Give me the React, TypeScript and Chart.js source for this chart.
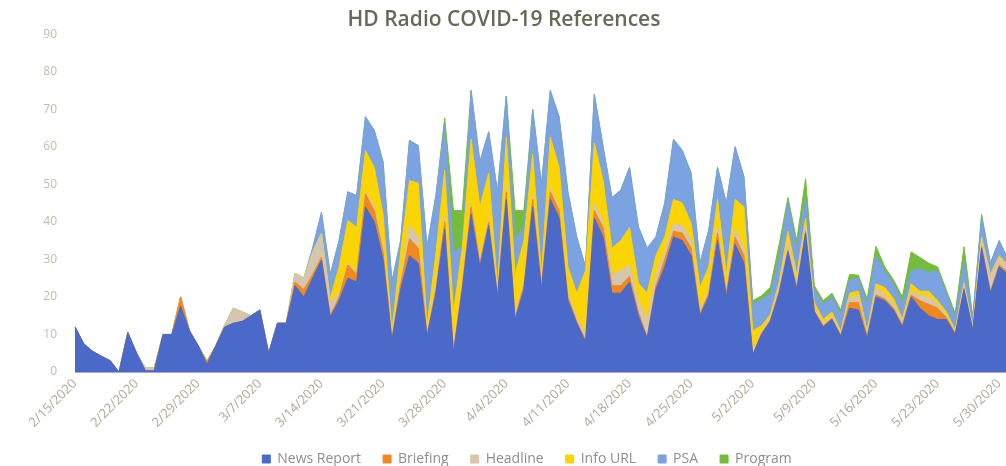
import React, { useEffect, useRef } from "react";
import { Chart, registerables } from "chart.js";

Chart.register(...registerables);

const dates: string[] = [
  "2/15/2020","2/16/2020","2/17/2020","2/18/2020","2/19/2020","2/20/2020","2/21/2020",
  "2/22/2020","2/23/2020","2/24/2020","2/25/2020","2/26/2020","2/27/2020","2/28/2020",
  "2/29/2020","3/1/2020","3/2/2020","3/3/2020","3/4/2020","3/5/2020","3/6/2020",
  "3/7/2020","3/8/2020","3/9/2020","3/10/2020","3/11/2020","3/12/2020","3/13/2020",
  "3/14/2020","3/15/2020","3/16/2020","3/17/2020","3/18/2020","3/19/2020","3/20/2020",
  "3/21/2020","3/22/2020","3/23/2020","3/24/2020","3/25/2020","3/26/2020","3/27/2020",
  "3/28/2020","3/29/2020","3/30/2020","3/31/2020","4/1/2020","4/2/2020","4/3/2020",
  "4/4/2020","4/5/2020","4/6/2020","4/7/2020","4/8/2020","4/9/2020","4/10/2020",
  "4/11/2020","4/12/2020","4/13/2020","4/14/2020","4/15/2020","4/16/2020","4/17/2020",
  "4/18/2020","4/19/2020","4/20/2020","4/21/2020","4/22/2020","4/23/2020","4/24/2020",
  "4/25/2020","4/26/2020","4/27/2020","4/28/2020","4/29/2020","4/30/2020","5/1/2020",
  "5/2/2020","5/3/2020","5/4/2020","5/5/2020","5/6/2020","5/7/2020","5/8/2020",
  "5/9/2020","5/10/2020","5/11/2020","5/12/2020","5/13/2020","5/14/2020","5/15/2020",
  "5/16/2020","5/17/2020","5/18/2020","5/19/2020","5/20/2020","5/21/2020","5/22/2020",
  "5/23/2020","5/24/2020","5/25/2020","5/26/2020","5/27/2020","5/28/2020","5/29/2020",
  "5/30/2020","5/31/2020",
];

const newsReport: number[] = [
  12, 7.5, 5.5, 4.2, 3, 0, 10.5, 5, 0.3, 0.3, 10, 10, 17.5, 11, 7, 2, 7, 12, 13, 13.5,
  15, 16.5, 5, 13, 13, 23, 20, 25, 29.8, 14.6, 19, 25, 24, 44, 40, 30, 8.5, 22, 31, 29,
  9.5, 21, 38, 5, 22, 42, 28, 39, 20, 46, 14, 22, 44, 22, 46, 41, 19, 13, 8, 41,
  36, 21, 21, 24, 15, 9, 22, 28, 36, 35, 31, 15, 20, 35, 20, 34, 29, 4.5, 10, 13.5,
  21, 32, 22, 37, 16, 12, 14, 9.5, 17, 16.5, 9, 20, 19, 16.5, 12, 20, 17, 15, 14, 14,
  10, 22, 11, 33, 21, 28, 26,
];
const briefing: number[] = [
  0, 0, 0, 0, 0, 0, 0, 0, 0, 0, 0, 0, 2.5, 0, 0, 0.8, 0, 0, 0, 0,
  0, 0, 0, 0, 0, 1, 2, 1, 0.8, 0.5, 1, 3.5, 2, 3.5, 3, 2, 0.3, 1.5, 4.5, 4,
  0.3, 1, 2, 0.5, 1, 2, 1, 1, 0.5, 2, 0.5, 1, 2, 1, 2, 2, 1, 0.5, 0.5, 2,
  2.5, 2, 2, 1.5, 1, 0.3, 1, 2, 1.5, 2, 2, 0.5, 1, 2, 1, 2, 2, 0.2, 0.3, 0.3,
  0.5, 0.5, 0.5, 0.5, 0.3, 0.3, 0.3, 0.3, 1.5, 2, 0.5, 0.5, 0.5, 0.5, 0.5, 0.5, 2, 3, 3, 0.5,
  0.3, 0.3, 0.2, 0.5, 0.5, 0.5, 0.5,
];
const headline: number[] = [
  0, 0, 0, 0, 0, 0, 0, 0, 0.8, 0.8, 0, 0, 0, 0, 0, 0, 0, 0.5, 4, 2.5,
  0, 0, 0, 0, 0, 2.3, 3, 6, 6.4, 3.5, 1, 0.5, 0.5, 0.5, 1, 1, 0.5, 1.5, 3.5, 3,
  0.5, 1.5, 1, 0.5, 1, 1, 1, 1, 1, 1, 0.5, 1, 1, 1, 1, 1, 1, 1, 1.5, 2,
  1.5, 3, 4, 3, 3, 4.7, 3, 2, 2, 2, 2, 1, 1, 2, 1, 2, 2, 0.3, 0.5, 0.5,
  1.5, 2, 2, 2, 0.7, 0.7, 0.7, 0.5, 1.5, 1.5, 1, 2, 1, 1, 1, 1, 1.5, 2, 1, 0.5,
  0.3, 1, 0.5, 2, 4, 2, 1.5,
];
const infoUrl: number[] = [
  0, 0, 0, 0, 0, 0, 0, 0, 0, 0, 0, 0, 0, 0, 0, 0, 0, 0, 0, 0,
  0, 0, 0, 0, 0, 0, 0, 0, 0, 1, 7, 11.4, 12, 11, 10.5, 9, 1.7, 7, 12, 14.3,
  2, 8, 12.7, 10, 9, 17, 14, 12, 1, 13.5, 11, 11, 11, 2, 13.6, 10.5, 7, 6.5, 17, 16,
  11, 7, 8, 10, 4.7, 7, 5, 4, 6.5, 6, 4.6, 6, 6, 7, 4, 8, 11, 6, 1.5, 1,
  1, 3, 1.5, 1.5, 1.5, 1, 1, 0.5, 1, 1.5, 0.5, 1, 2, 1.5, 0.5, 2, 1, 1.5, 1, 1,
  0.6, 0.5, 0.3, 0.5, 0.5, 0.5, 0.5,
];
const psa: number[] = [
  0, 0, 0, 0, 0, 0, 0, 0, 0, 0, 0, 0, 0, 0, 0, 0, 0, 0, 0, 0,
  0, 0, 0, 0, 0, 0, 0, 1, 5.5, 6.4, 7, 7.6, 8.5, 9, 9.9, 14, 13, 3, 10.7, 10,
  21, 15.5, 12, 16, 0.5, 13, 12, 11, 25.5, 11, 9, 4, 12, 24, 12.4, 13.5, 20, 15, 1, 13,
  9, 13.5, 13.4, 16, 15, 12, 5, 9, 16, 14, 13.4, 6.5, 9.8, 8.5, 19, 14, 8, 7, 7, 5.5,
  6.6, 8, 7, 5, 3.5, 4, 4, 4.5, 3.5, 3.5, 7, 7.5, 4.5, 4, 4.5, 3.5, 6, 5, 8, 4.8,
  3.4, 5.6, 2.4, 5.5, 3, 4, 1.5,
];
const program: number[] = [
  0, 0, 0, 0, 0, 0, 0, 0, 0, 0, 0, 0, 0, 0, 0, 0, 0, 0, 0, 0,
  0, 0, 0, 0, 0, 0, 0, 0, 0, 0, 0, 0, 0, 0, 0, 0, 0, 0, 0, 0,
  0, 0, 2, 11, 9.5, 0, 0, 0, 0, 0, 8, 4, 0, 0, 0, 0, 0, 0, 0, 0,
  0, 0, 0, 0, 0, 0, 0, 0, 0, 0, 0, 0, 0, 0, 0, 0, 0, 1, 1, 1.8,
  3.4, 1, 2, 5.5, 1, 1, 1, 1.2, 1.5, 0.8, 1.5, 2.5, 1, 1, 1.5, 5, 3, 2.5, 1, 1,
  1, 4, 0.2, 0.5, 0, 0, 0,
];

const seriesNames: string[] = ["News Report", "Briefing", "Headline", "Info URL", "PSA", "Program"];
const seriesColors: string[] = ["#4b69c9", "#f0891e", "#d5c6ad", "#fbd404", "#7ba2e1", "#74bc3c"];
const seriesValues: number[][] = [newsReport, briefing, headline, infoUrl, psa, program];

const titleText = "HD Radio COVID-19 References";
const font = "'Open Sans', 'Noto Sans', sans-serif";

export default function App() {
  const ref = useRef<HTMLCanvasElement | null>(null);

  useEffect(() => {
    if (!ref.current) return;
    const legendShift = {
      id: "legendShift",
      afterLayout(chart: any) {
        if (chart.legend) {
          chart.legend.left += 23;
          chart.legend.right += 23;
        }
      },
    };
    const chart = new Chart(ref.current, {
      type: "line",
      data: {
        labels: dates,
        datasets: seriesNames.map((name, i) => ({
          label: name,
          data: seriesValues[i],
          backgroundColor: seriesColors[i],
          borderColor: seriesColors[i],
          borderWidth: 1,
          fill: "origin",
          pointRadius: 0,
          pointHoverRadius: 0,
          tension: 0,
        })),
      },
      options: {
        responsive: false,
        animation: false,
        events: [],
        layout: { padding: 0 },
        plugins: {
          title: {
            display: true,
            text: titleText,
            color: "#666a55",
            font: { family: font, size: 21, weight: "600", lineHeight: 1.2 },
            padding: { top: 7, bottom: 2 },
          },
          legend: {
            position: "bottom",
            labels: {
              boxWidth: 8,
              boxHeight: 8,
              padding: 22,
              color: "#8e8e8e",
              font: { family: font, size: 14 },
            },
          },
          tooltip: { enabled: false },
        },
        scales: {
          x: {
            grid: { display: false, drawTicks: false },
            border: { display: true, color: "#a6a6d8", width: 1 },
            ticks: {
              autoSkip: false,
              maxRotation: 45,
              minRotation: 45,
              padding: 4,
              color: "#b3a892",
              font: { family: font, size: 13 },
              callback: (_v: any, idx: number) => (idx % 7 === 0 ? dates[idx] : ""),
            },
            afterFit: (scale: any) => {
              scale.height = 58;
              scale.paddingLeft = 0;
              scale.paddingRight = 0;
            },
          },
          y: {
            stacked: true,
            min: 0,
            max: 90,
            grid: { display: false, drawTicks: false },
            border: { display: false },
            ticks: {
              stepSize: 10,
              padding: 18,
              color: "#cbb9a5",
              font: { family: font, size: 12 },
            },
            afterFit: (scale: any) => {
              scale.width = 75;
              scale.paddingTop = 0;
              scale.paddingBottom = 0;
            },
          },
        },
      },
      plugins: [legendShift],
    });
    return () => chart.destroy();
  }, []);

  return (
    <div
      style={{
        position: "fixed",
        left: 0,
        top: 0,
        width: 1006,
        height: 466,
        overflow: "hidden",
        background: "#ffffff",
      }}
    >
      <canvas ref={ref} width={1008} height={476} style={{ display: "block" }} />
    </div>
  );
}
